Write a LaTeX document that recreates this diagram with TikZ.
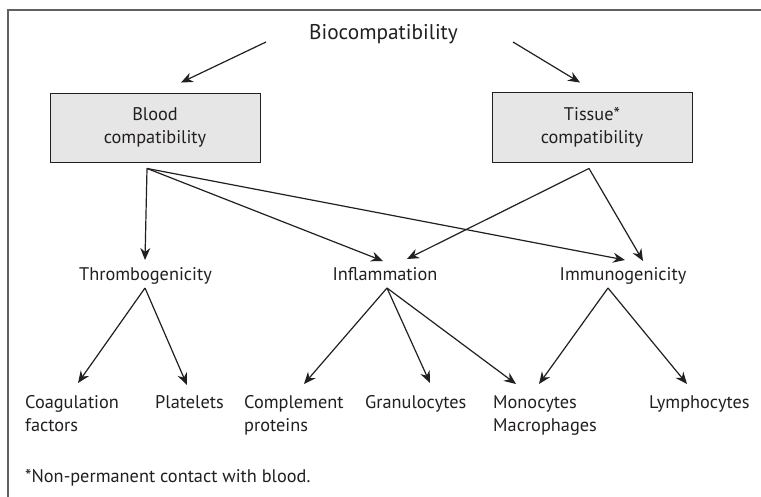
\documentclass[tikz,border=0pt]{standalone}
\usepackage{fontspec}
\setmainfont{PT Sans}
\usetikzlibrary{arrows.meta,calc}
\definecolor{boxfill}{HTML}{E6E6E6}
\definecolor{framegray}{HTML}{606060}
\definecolor{ink}{HTML}{231F20}
\begin{document}
\begin{tikzpicture}[x=1pt,y=-1pt,
  conn/.style={draw=ink,line width=1.2pt,-{Stealth[length=12pt,width=10pt,inset=4pt]}},
  lbl/.style={text=ink,inner sep=0pt,font=\fontsize{18.3}{23}\selectfont},
  leaf/.style={lbl,anchor=base west,align=left},
  mid/.style={lbl,anchor=base},
  compbox/.style={draw=ink,line width=0.9pt,fill=boxfill,text=ink,align=center,
    font=\fontsize{18.3}{23}\selectfont,inner sep=0pt}
]
\useasboundingbox (0,0) rectangle (761,496);
\fill[white] (0,0) rectangle (761,496);
% frame
\draw[framegray,line width=2pt] (8.3,497) -- (8.3,9.6) -- (762,9.6);

% nodes
\node[lbl,anchor=base,font=\fontsize{21.3}{25}\selectfont] (bio) at (383.5,39) {Biocompatibility};
\node[compbox,minimum width=210pt,minimum height=69pt] (blood) at (155,127.5) {Blood\\compatibility};
\node[compbox,minimum width=200pt,minimum height=70pt] (tissue) at (592,127) {Tissue*\\compatibility};

\node[mid] (thr) at (145.5,280) {Thrombogenicity};
\node[mid] (infl) at (385,280) {Inflammation};
\node[mid] (immu) at (623,280) {Immunogenicity};

% multi-line nodes: base anchor is the baseline of the last line
\node[leaf] (coag) at (25,431) {Coagulation\\factors};
\node[leaf] (plat) at (155,408) {Platelets};
\node[leaf] (compl) at (244,431) {Complement\\proteins};
\node[leaf] (gran) at (365,408) {Granulocytes};
\node[leaf] (mono) at (493,431) {Monocytes\\Macrophages};
\node[leaf] (lymph) at (649,408) {Lymphocytes};

\node[leaf] (note) at (25,482) {*Non-permanent contact with blood.};

% top arrows
\draw[conn] ($(bio.base)+(-117.5,3)$) -- ($(blood.north)+(26,-10)$);
\draw[conn] ($(bio.base)+(129.5,3)$) -- ($(tissue.north)+(-12,-9)$);

% from blood
\draw[conn] ($(blood.south)+(-8,6)$) -- ($(thr.base)+(-0.5,-20)$);
\draw[conn] ($(blood.south)+(-8,6)$) -- ($(infl.base)+(-2,-19)$);
\draw[conn] ($(blood.south)+(-8,6)$) -- ($(immu.base)+(2,-20)$);
% from tissue
\draw[conn] ($(tissue.south)+(-3,6)$) -- ($(infl.base)+(22,-21)$);
\draw[conn] ($(tissue.south)+(-3,6)$) -- ($(immu.base)+(20,-19)$);

% second level
\draw[conn] ($(thr.base)+(-0.5,8)$) -- ($(coag.base west)+(53,-48)$);
\draw[conn] ($(thr.base)+(-0.5,8)$) -- ($(plat.base west)+(32,-23)$);
\draw[conn] ($(infl.base)+(2,8)$) -- ($(compl.base west)+(60,-47)$);
\draw[conn] ($(infl.base)+(2,8)$) -- ($(gran.base west)+(65,-25)$);
\draw[conn] ($(infl.base)+(2,8)$) -- ($(mono.base west)+(23,-47)$);
\draw[conn] ($(immu.base)+(-15,8)$) -- ($(mono.base west)+(46,-47)$);
\draw[conn] ($(immu.base)+(-15,8)$) -- ($(lymph.base west)+(38,-24)$);
\end{tikzpicture}
\end{document}
